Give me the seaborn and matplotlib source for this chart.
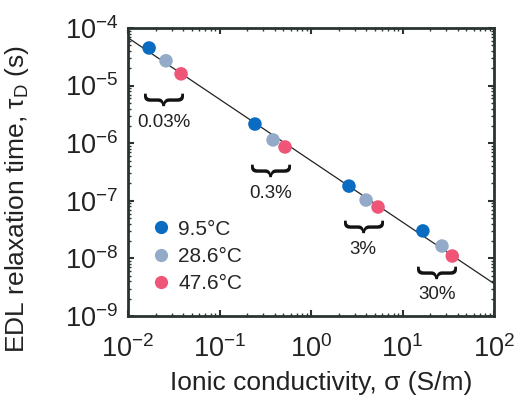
import numpy as np
import pandas as pd
import matplotlib
matplotlib.use("Agg")
import matplotlib.pyplot as plt
import seaborn as sns

temps = ["9.5°C", "28.6°C", "47.6°C"]
colors = ["#0a6cc0", "#93abc9", "#ee5577"]
sigma_95 = [0.017, 0.244, 2.6, 16.7]
tau_95 = [4.5e-5, 2.15e-6, 1.8e-7, 3.0e-8]
sigma_286 = [0.026, 0.385, 4.0, 27.0]
tau_286 = [2.7e-5, 1.14e-6, 1.03e-7, 1.64e-8]
sigma_476 = [0.038, 0.52, 5.4, 35.0]
tau_476 = [1.6e-5, 8.6e-7, 7.8e-8, 1.1e-8]
brace_labels = ["0.03%", "0.3%", "3%", "30%"]
brace_x = [0.024, 0.35, 3.6, 23.0]
brace_y = [5.8e-6, 3.4e-7, 3.6e-8, 5.8e-9]

df = pd.DataFrame({
    "sigma": sigma_95 + sigma_286 + sigma_476,
    "tau": tau_95 + tau_286 + tau_476,
    "T": [temps[0]] * 4 + [temps[1]] * 4 + [temps[2]] * 4,
})

sns.set_theme(style="ticks")
plt.rcParams["font.family"] = ["Liberation Sans", "DejaVu Sans"]
plt.rcParams["mathtext.fontset"] = "custom"
plt.rcParams["mathtext.rm"] = "Liberation Sans"
plt.rcParams["mathtext.it"] = "Liberation Sans"
plt.rcParams["axes.unicode_minus"] = False

fig = plt.figure(figsize=(5.22, 3.99), dpi=100)
ax = fig.add_axes([128 / 522, 1 - 316 / 399, (494 - 128) / 522, (316 - 28) / 399])

# power-law fit line
p = np.polyfit(np.log10(df["sigma"]), np.log10(df["tau"]), 1)
xs = np.logspace(-2, 2, 50)
ax.plot(xs, 10 ** np.polyval(p, np.log10(xs)), color="#222222", lw=0.9, zorder=1)

sns.scatterplot(data=df, x="sigma", y="tau", hue="T", palette=colors,
                s=95, edgecolor="none", ax=ax, zorder=3)

ax.set_xscale("log")
ax.set_yscale("log")
ax.set_xlim(1e-2, 1e2)
ax.set_ylim(1e-9, 1e-4)
ax.set_xticks([1e-2, 1e-1, 1e0, 1e1, 1e2])
ax.set_yticks([1e-9, 1e-8, 1e-7, 1e-6, 1e-5, 1e-4])
ax.tick_params(which="both", direction="in", top=True, right=True, color="#2a3232")
ax.tick_params(which="major", length=4, width=1.5, labelsize=19.5, pad=7, labelcolor="#222222")
ax.tick_params(axis="x", which="major", pad=14)
ax.tick_params(which="minor", length=2.5, width=1.0)
for s in ax.spines.values():
    s.set_linewidth(2.0)
    s.set_color("#2a3232")

ax.set_xlabel("Ionic conductivity, σ (S/m)", fontsize=19, color="#222222")
ax.set_ylabel(r"EDL relaxation time, τ$_\mathregular{D}$ (s)", fontsize=19, color="#222222")
ax.xaxis.set_label_coords(0.527, -0.19)
ax.yaxis.set_label_coords(-0.265, 0.406)

for lab, bx, by in zip(brace_labels, brace_x, brace_y):
    ax.text(bx, by, "}", rotation=-90, fontsize=30, ha="center", va="center", color="#111111")
    ax.text(bx * 1.03, by / 2.5, lab, fontsize=13.5, ha="center", va="center", color="#222222")

leg = ax.legend(loc="lower left", bbox_to_anchor=(0.04, 0.05), frameon=False, fontsize=15,
                handlelength=1.0, handletextpad=0.3, labelspacing=0.4, borderaxespad=0)
for h in leg.legend_handles:
    try:
        h.set_markersize(9.5)
    except AttributeError:
        h.set_sizes([95])

fig.savefig("out.png", dpi=100)
